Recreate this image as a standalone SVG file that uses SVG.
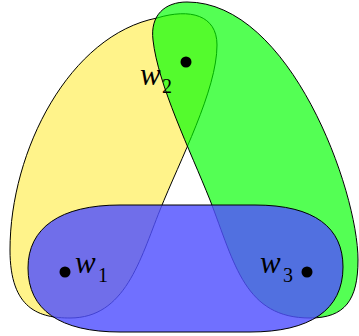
<svg xmlns="http://www.w3.org/2000/svg" width="359" height="336" viewBox="0 0 359 336">
<style>
.set{stroke:#000;stroke-width:1}
.y{fill:#ffeb3c;fill-opacity:0.6}
.g{fill:#00ff00;fill-opacity:0.67}
.b{fill:#5050ff;fill-opacity:0.82}
.dot{fill:#000}
.lbl{font-family:"Liberation Serif",serif;font-style:italic;font-size:31px;fill:#000}
.sub{font-family:"Liberation Serif",serif;font-size:20px;fill:#000}
</style>
<rect width="359" height="336" fill="#fff"/>
<g id="set-yellow">
<path class="set y" d="M 157,18 C 190,8 217,15 217,45 C 217,90 180,160 160,210 C 140,260 125,318 70,318 C 40,318 10,310 10,250 C 10,150 70,35 157,18 Z"/>
</g>
<g id="set-green">
<path class="set g" d="M 187,2 C 165,2 150,15 153,40 C 158,85 190,150 210,200 C 235,265 245,318 310,318 C 345,318 358,300 358,260 C 358,190 290,2 187,2 Z"/>
</g>
<g id="set-blue">
<path class="set b" d="M 120,205 L 255,205 C 315,205 343,228 343,267 C 343,310 310,332 250,332 L 120,332 C 60,332 28,310 28,268 C 28,228 60,205 120,205 Z"/>
</g>
<g id="node-w1">
<circle class="dot" cx="65" cy="272" r="5.5"/>
<text class="lbl" x="75" y="273">w</text><text class="sub" x="98" y="282">1</text>
</g>
<g id="node-w2">
<circle class="dot" cx="186" cy="62" r="5.5"/>
<text class="lbl" x="140" y="85">w</text><text class="sub" x="162" y="93">2</text>
</g>
<g id="node-w3">
<circle class="dot" cx="307" cy="272" r="5.5"/>
<text class="lbl" x="260" y="273">w</text><text class="sub" x="283" y="282">3</text>
</g>
<g id="connectors"/>
</svg>
